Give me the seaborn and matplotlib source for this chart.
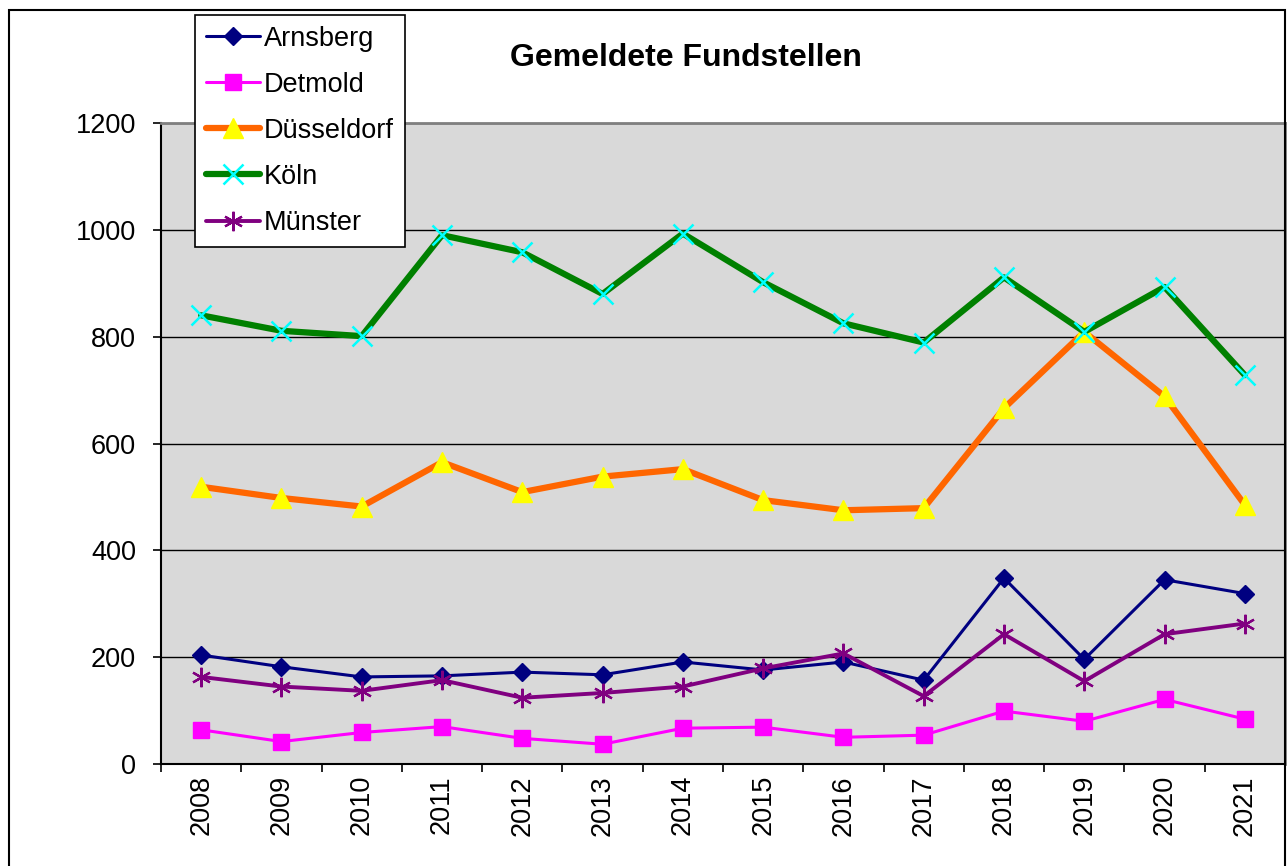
import numpy as np
import pandas as pd
import seaborn as sns
import matplotlib.pyplot as plt
from matplotlib.patches import Rectangle

years = ['2008', '2009', '2010', '2011', '2012', '2013', '2014',
         '2015', '2016', '2017', '2018', '2019', '2020', '2021']

arnsberg = [204, 182, 163, 165, 172, 167, 191, 176, 191, 157, 348, 196, 345, 319]
detmold = [64, 42, 59, 70, 48, 37, 67, 69, 50, 54, 99, 80, 121, 84]
duesseldorf = [519, 498, 482, 565, 509, 538, 552, 494, 475, 479, 666, 809, 688, 485]
koeln = [840, 811, 801, 990, 958, 880, 993, 902, 825, 789, 911, 809, 893, 728]
muenster = [163, 145, 137, 157, 124, 133, 145, 179, 207, 127, 243, 155, 243, 263]

sns.set_theme(style='white')
plt.rcParams['font.family'] = ['Liberation Sans', 'DejaVu Sans']
plt.rcParams['text.color'] = 'black'
plt.rcParams['xtick.color'] = 'black'
plt.rcParams['ytick.color'] = 'black'

df = pd.DataFrame({'pos': np.arange(len(years)), 'year': years,
                   'Arnsberg': arnsberg, 'Detmold': detmold,
                   'Düsseldorf': duesseldorf, 'Köln': koeln,
                   'Münster': muenster})

styles = {
    'Arnsberg': dict(color='#000080', lw=2.2, marker='D', ms=9, mfc='#000080', mec='#000080', mew=1),
    'Detmold': dict(color='#FF00FF', lw=2.2, marker='s', ms=11, mfc='#FF00FF', mec='#FF00FF', mew=1),
    'Düsseldorf': dict(color='#FF6600', lw=4.5, marker='^', ms=15, mfc='#FFFF00', mec='#FFFF00', mew=1),
    'Köln': dict(color='#008000', lw=4.5, marker='x', ms=14, mfc='#00FFFF', mec='#00FFFF', mew=1.8),
    'Münster': dict(color='#800080', lw=2.8, marker=(6, 2, 0), ms=14, mfc='#800080', mec='#800080', mew=1.6),
}

fs = 19.5

fig = plt.figure(figsize=(12.87, 8.66), dpi=100)
ax = fig.add_axes([161 / 1287, 102 / 866, 1124 / 1287, 641 / 866])
ax.set_facecolor('#D9D9D9')

for name, st in styles.items():
    sns.lineplot(data=df, x='pos', y=name, ax=ax, label=name, **st)

ax.set_xlim(-0.5, len(years) - 0.5)
ax.set_ylim(0, 1200)
ax.set_yticks(np.arange(0, 1201, 200))
ax.yaxis.grid(True, color='black', lw=1)
ax.set_axisbelow(True)

# ticks between categories, labels at the centres
ax.set_xticks(np.arange(-0.5, len(years), 1.0))
ax.set_xticklabels([])
ax.set_xticks(df['pos'], minor=True)
ax.set_xticklabels(years, minor=True, rotation=90, fontsize=fs)
ax.tick_params(axis='x', which='major', direction='out', length=6, width=1.2, bottom=True)
ax.tick_params(axis='x', which='minor', length=0, pad=8, bottom=True)
ax.tick_params(axis='y', direction='out', length=6, width=1.2, left=True, pad=12, labelsize=fs)
ax.set_xlabel('')
ax.set_ylabel('')

for side in ['left', 'bottom']:
    ax.spines[side].set_color('black')
    ax.spines[side].set_linewidth(1.5)
for side in ['top', 'right']:
    ax.spines[side].set_color('#808080')
    ax.spines[side].set_linewidth(2)

ax.get_legend().remove()
handles, labels = ax.get_legend_handles_labels()
leg = fig.legend(handles, labels, loc='upper left', bbox_to_anchor=(195 / 1287, 1 - 15 / 866),
                 fontsize=fs, frameon=True, fancybox=False, edgecolor='black',
                 handlelength=2.0, labelspacing=0.74, borderpad=0.4, handletextpad=0.15,
                 borderaxespad=0)
leg.get_frame().set_linewidth(1.2)
leg.get_frame().set_facecolor('white')
leg.get_frame().set_alpha(1)

fig.text(686 / 1287, 1 - 58 / 866, 'Gemeldete Fundstellen', ha='center', va='center',
         fontsize=23, fontweight='bold')

fig.patches.append(Rectangle((9 / 1287, -0.02), 1276 / 1287, 1.02 - 10 / 866,
                             transform=fig.transFigure, fill=False, edgecolor='black', lw=1.5))

fig.savefig('out.png', dpi=100)
